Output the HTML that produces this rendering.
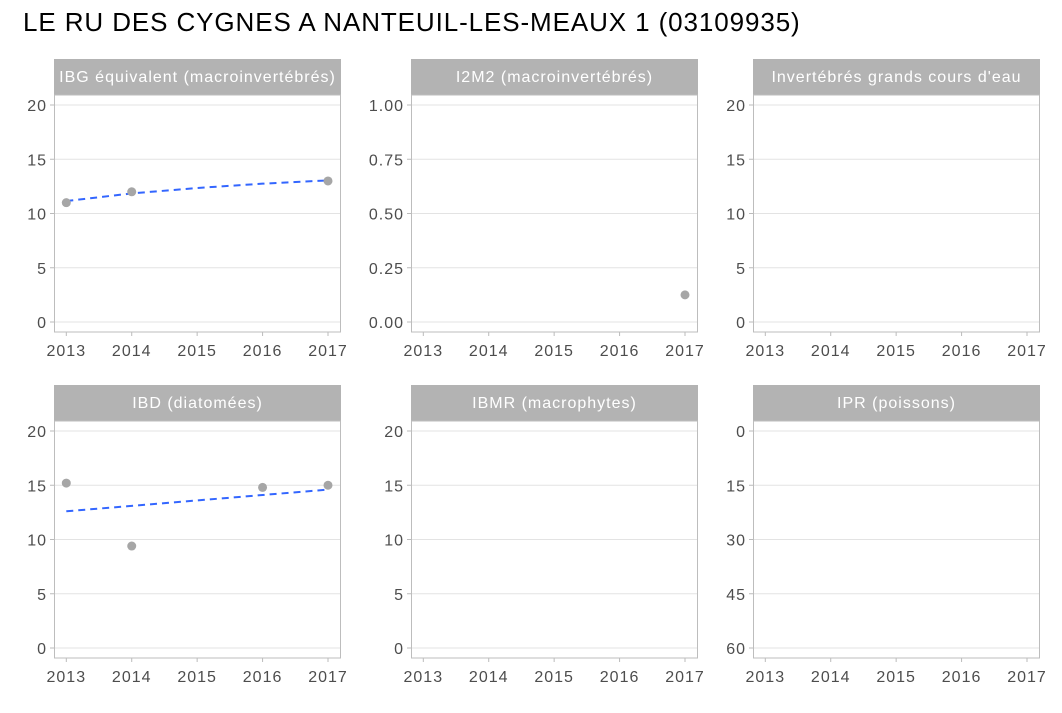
<!DOCTYPE html>
<html><head><meta charset="utf-8">
<style>
body{margin:0;background:#fff;width:1062px;height:708px;overflow:hidden;font-family:"Liberation Sans",Arial,sans-serif}
text{font-family:"Liberation Sans",Arial,sans-serif}
</style></head><body>
<svg id="chart" width="1062" height="708">
<text x="23" y="31" font-size="26" letter-spacing="0.9" fill="#000">LE RU DES CYGNES A NANTEUIL-LES-MEAUX 1 (03109935)</text>
</svg>
<script>
const years=[2013,2014,2015,2016,2017];
const panelTitles=["IBG équivalent (macroinvertébrés)","I2M2 (macroinvertébrés)","Invertébrés grands cours d'eau","IBD (diatomées)","IBMR (macrophytes)","IPR (poissons)"];
const yTicks0=[0,5,10,15,20];
const yTicks1=[0,0.25,0.5,0.75,1];
const yLabels1=["0.00","0.25","0.50","0.75","1.00"];
const yTicksIPR=[0,15,30,45,60];
const ibgYears=[2013,2014,2017];
const ibgValues=[11,12,13];
const ibgTrend=[11.15,11.85,12.35,12.75,13.05];
const i2m2Years=[2017];
const i2m2Values=[0.125];
const ibdYears=[2013,2014,2016,2017];
const ibdValues=[15.2,9.4,14.8,15.0];
const ibdTrend=[12.6,13.1,13.6,14.1,14.6];

const svg=document.getElementById('chart');
const NS="http://www.w3.org/2000/svg";
function mk(tag,attrs,parent){const e=document.createElementNS(NS,tag);for(const k in attrs)e.setAttribute(k,attrs[k]);(parent||svg).appendChild(e);return e;}
const colX=[54,411,753], rowY=[59,385], W=287;
const panels=[
 {ticks:yTicks0,labels:yTicks0.map(String),min:0,max:20,rev:false,pts:[ibgYears,ibgValues],trend:ibgTrend},
 {ticks:yTicks1,labels:yLabels1,min:0,max:1,rev:false,pts:[i2m2Years,i2m2Values]},
 {ticks:yTicks0,labels:yTicks0.map(String),min:0,max:20,rev:false},
 {ticks:yTicks0,labels:yTicks0.map(String),min:0,max:20,rev:false,pts:[ibdYears,ibdValues],trend:ibdTrend},
 {ticks:yTicks0,labels:yTicks0.map(String),min:0,max:20,rev:false},
 {ticks:yTicksIPR,labels:yTicksIPR.map(String),min:0,max:60,rev:true}
];
panels.forEach((p,i)=>{
 const x0=colX[i%3], top=rowY[Math.floor(i/3)];
 const g=mk('g',{});
 
 
 const st=mk('rect',{x:x0,y:top,width:W,height:36,fill:'#b3b3b3'},g);
 
 
 const stt=mk('text',{x:x0+W/2,y:top+23,'text-anchor':'middle','font-size':16,'letter-spacing':1,fill:'#fff'},g);
 stt.textContent=panelTitles[i];
 
 
 const pt=top+36, pb=top+273;
 const yPix0=top+263, yPix1=top+46;
 const ys=v=>{let f=(v-p.min)/(p.max-p.min); if(p.rev)f=1-f; return yPix0-f*(yPix0-yPix1);};
 const xs=yr=>x0+12.3+(yr-2013)*(261.7/4);
 p.ticks.forEach((t,j)=>{
  mk('line',{x1:x0,x2:x0+W,y1:ys(t),y2:ys(t),stroke:'#e3e3e3','stroke-width':1},g);
  mk('line',{x1:x0-4,x2:x0,y1:ys(t),y2:ys(t),stroke:'#bbb'},g);
  const tl=mk('text',{x:x0-7,y:ys(t)+6,'text-anchor':'end','font-size':16,'letter-spacing':1,fill:'#4d4d4d'},g);
  tl.textContent=p.labels[j];
  
  
 });
 years.forEach(yr=>{
  mk('line',{x1:xs(yr),x2:xs(yr),y1:pb,y2:pb+4,stroke:'#bbb'},g);
  const xl=mk('text',{x:xs(yr),y:pb+24,'text-anchor':'middle','font-size':16,'letter-spacing':1,fill:'#4d4d4d'},g);
  xl.textContent=yr;
  
  
 });
 mk('rect',{x:x0+0.5,y:pt,width:W-1,height:pb-pt,fill:'none',stroke:'#bdbdbd','stroke-width':1},g);
 if(p.trend){
  const d=years.map((yr,k)=>(k?'L':'M')+xs(yr)+','+ys(p.trend[k])).join(' ');
  const tr=mk('path',{d:d,fill:'none',stroke:'#3366ff','stroke-width':2,'stroke-dasharray':'7 5'},g);
  
  
 }
 if(p.pts){
  p.pts[0].forEach((yr,k)=>{
   const c=mk('circle',{cx:xs(yr),cy:ys(p.pts[1][k]),r:4.5,fill:'#a6a6a6'},g);
   
   
  });
 }
});
</script>
</body></html>
